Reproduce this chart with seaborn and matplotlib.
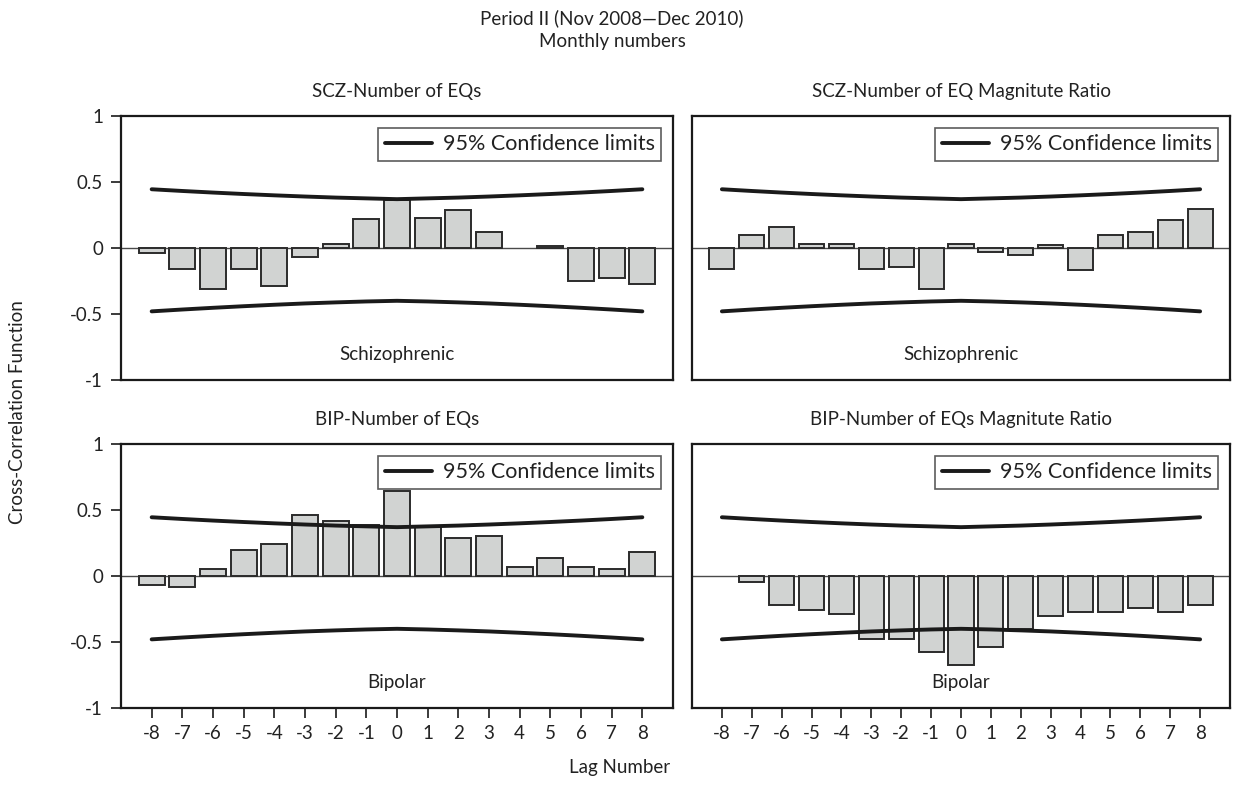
import matplotlib
matplotlib.use("Agg")
import matplotlib.pyplot as plt
import seaborn as sns
import pandas as pd

# ---------------- data ----------------
lags = [-8, -7, -6, -5, -4, -3, -2, -1, 0, 1, 2, 3, 4, 5, 6, 7, 8]

scz_num = [-0.04, -0.16, -0.31, -0.16, -0.29, -0.07, 0.03, 0.22, 0.36,
           0.23, 0.29, 0.12, 0.0, 0.015, -0.25, -0.23, -0.27]
scz_mag = [-0.16, 0.095, 0.16, 0.033, 0.033, -0.16, -0.146, -0.31, 0.033,
           -0.033, -0.056, 0.023, -0.17, 0.097, 0.123, 0.215, 0.295]
bip_num = [-0.065, -0.08, 0.05, 0.20, 0.24, 0.46, 0.42, 0.39, 0.645,
           0.38, 0.285, 0.30, 0.07, 0.14, 0.07, 0.05, 0.18]
bip_mag = [0.0, -0.044, -0.22, -0.255, -0.285, -0.48, -0.48, -0.575, -0.677,
           -0.54, -0.405, -0.30, -0.27, -0.27, -0.245, -0.27, -0.22]

ci_upper = [0.445, 0.432, 0.420, 0.409, 0.399, 0.390, 0.382, 0.376, 0.370,
            0.376, 0.382, 0.390, 0.399, 0.409, 0.420, 0.432, 0.445]
ci_lower = [-0.480, -0.466, -0.453, -0.441, -0.430, -0.420, -0.412, -0.405, -0.400,
            -0.405, -0.412, -0.420, -0.430, -0.441, -0.453, -0.466, -0.480]

titles = ["SCZ-Number of EQs", "SCZ-Number of EQ Magnitute Ratio",
          "BIP-Number of EQs", "BIP-Number of EQs Magnitute Ratio"]
groups = ["Schizophrenic", "Schizophrenic", "Bipolar", "Bipolar"]
series = [scz_num, scz_mag, bip_num, bip_mag]
yticks = [-1, -0.5, 0, 0.5, 1]
ytick_labels = ["-1", "-0.5", "0", "0.5", "1"]

# ---------------- style ----------------
sns.set_style("ticks")
plt.rcParams['font.family'] = ['Lato', 'DejaVu Sans']
TXT = "#222222"
plt.rcParams['text.color'] = TXT
plt.rcParams['xtick.color'] = TXT
plt.rcParams['ytick.color'] = TXT

W, H = 1239, 791
fig = plt.figure(figsize=(W / 100, H / 100), dpi=100)

def box(x0, y0, x1, y1):
    return [x0 / W, 1 - y1 / H, (x1 - x0) / W, (y1 - y0) / H]

rects = [box(121, 116, 673, 380), box(692, 116, 1230, 380),
         box(121, 444, 673, 708), box(692, 444, 1230, 708)]

FS = 13.5
LFS = 15.5
for i, (rect, title, grp, vals) in enumerate(zip(rects, titles, groups, series)):
    ax = fig.add_axes(rect)
    df = pd.DataFrame({"lag": lags, "ccf": vals})
    sns.barplot(data=df, x="lag", y="ccf", native_scale=True, width=0.84,
                color="#d1d3d2", saturation=1, edgecolor="#2b2b2b",
                linewidth=1.4, ax=ax, zorder=2)
    for p in ax.patches:
        if abs(p.get_height()) < 1e-9:
            p.set_linewidth(0)
    ax.axhline(0, color="#4a4a4a", lw=1.0, zorder=1)
    cdf = pd.DataFrame({"lag": lags, "up": ci_upper, "lo": ci_lower})
    sns.lineplot(data=cdf, x="lag", y="up", color="#1a1a1a", lw=2.8,
                 ax=ax, label="95% Confidence limits", zorder=3,
                 solid_capstyle="round")
    sns.lineplot(data=cdf, x="lag", y="lo", color="#1a1a1a", lw=2.8,
                 ax=ax, zorder=3, solid_capstyle="round", legend=False)
    ax.set_xlim(-9, 9)
    ax.set_ylim(-1, 1)
    ax.set_xlabel("")
    ax.set_ylabel("")
    for s in ax.spines.values():
        s.set_linewidth(1.6)
        s.set_color("#1a1a1a")
    ax.set_title(title, fontsize=FS, pad=14, color=TXT)
    ax.text(0.5, 0.095, grp, transform=ax.transAxes, ha="center",
            va="center", fontsize=FS, color=TXT)
    # y axis
    if i in (0, 2):
        ax.set_yticks(yticks)
        ax.set_yticklabels(ytick_labels, fontsize=FS)
        ax.tick_params(axis="y", length=7, width=1.2, pad=6, color="#1a1a1a")
    else:
        ax.set_yticks([])
    # x axis
    if i in (2, 3):
        ax.set_xticks(lags)
        ax.set_xticklabels([str(v) for v in lags], fontsize=FS)
        ax.tick_params(axis="x", length=7, width=1.2, pad=5, color="#1a1a1a")
    else:
        ax.set_xticks([])
    leg = ax.legend(loc="upper right", fontsize=LFS, frameon=True,
                    fancybox=False, handlelength=2.2, borderpad=0.3,
                    borderaxespad=0.55, handletextpad=0.5)
    leg.get_frame().set_edgecolor("#333333")
    leg.get_frame().set_linewidth(1.2)
    for h in leg.get_lines():
        h.set_linewidth(2.8)

fig.text(612 / W, 1 - 18 / H, "Period II (Nov 2008\u2014Dec 2010)", ha="center",
         va="center", fontsize=FS, color=TXT)
fig.text(612 / W, 1 - 42 / H, "Monthly numbers", ha="center", va="center",
         fontsize=FS, color=TXT)
fig.text(18 / W, 1 - 412 / H, "Cross-Correlation Function", ha="center",
         va="center", rotation=90, fontsize=FS, color=TXT)
fig.text(620 / W, 1 - 768 / H, "Lag Number", ha="center", va="center",
         fontsize=FS, color=TXT)

fig.savefig("out.png", dpi=100, facecolor="white")
